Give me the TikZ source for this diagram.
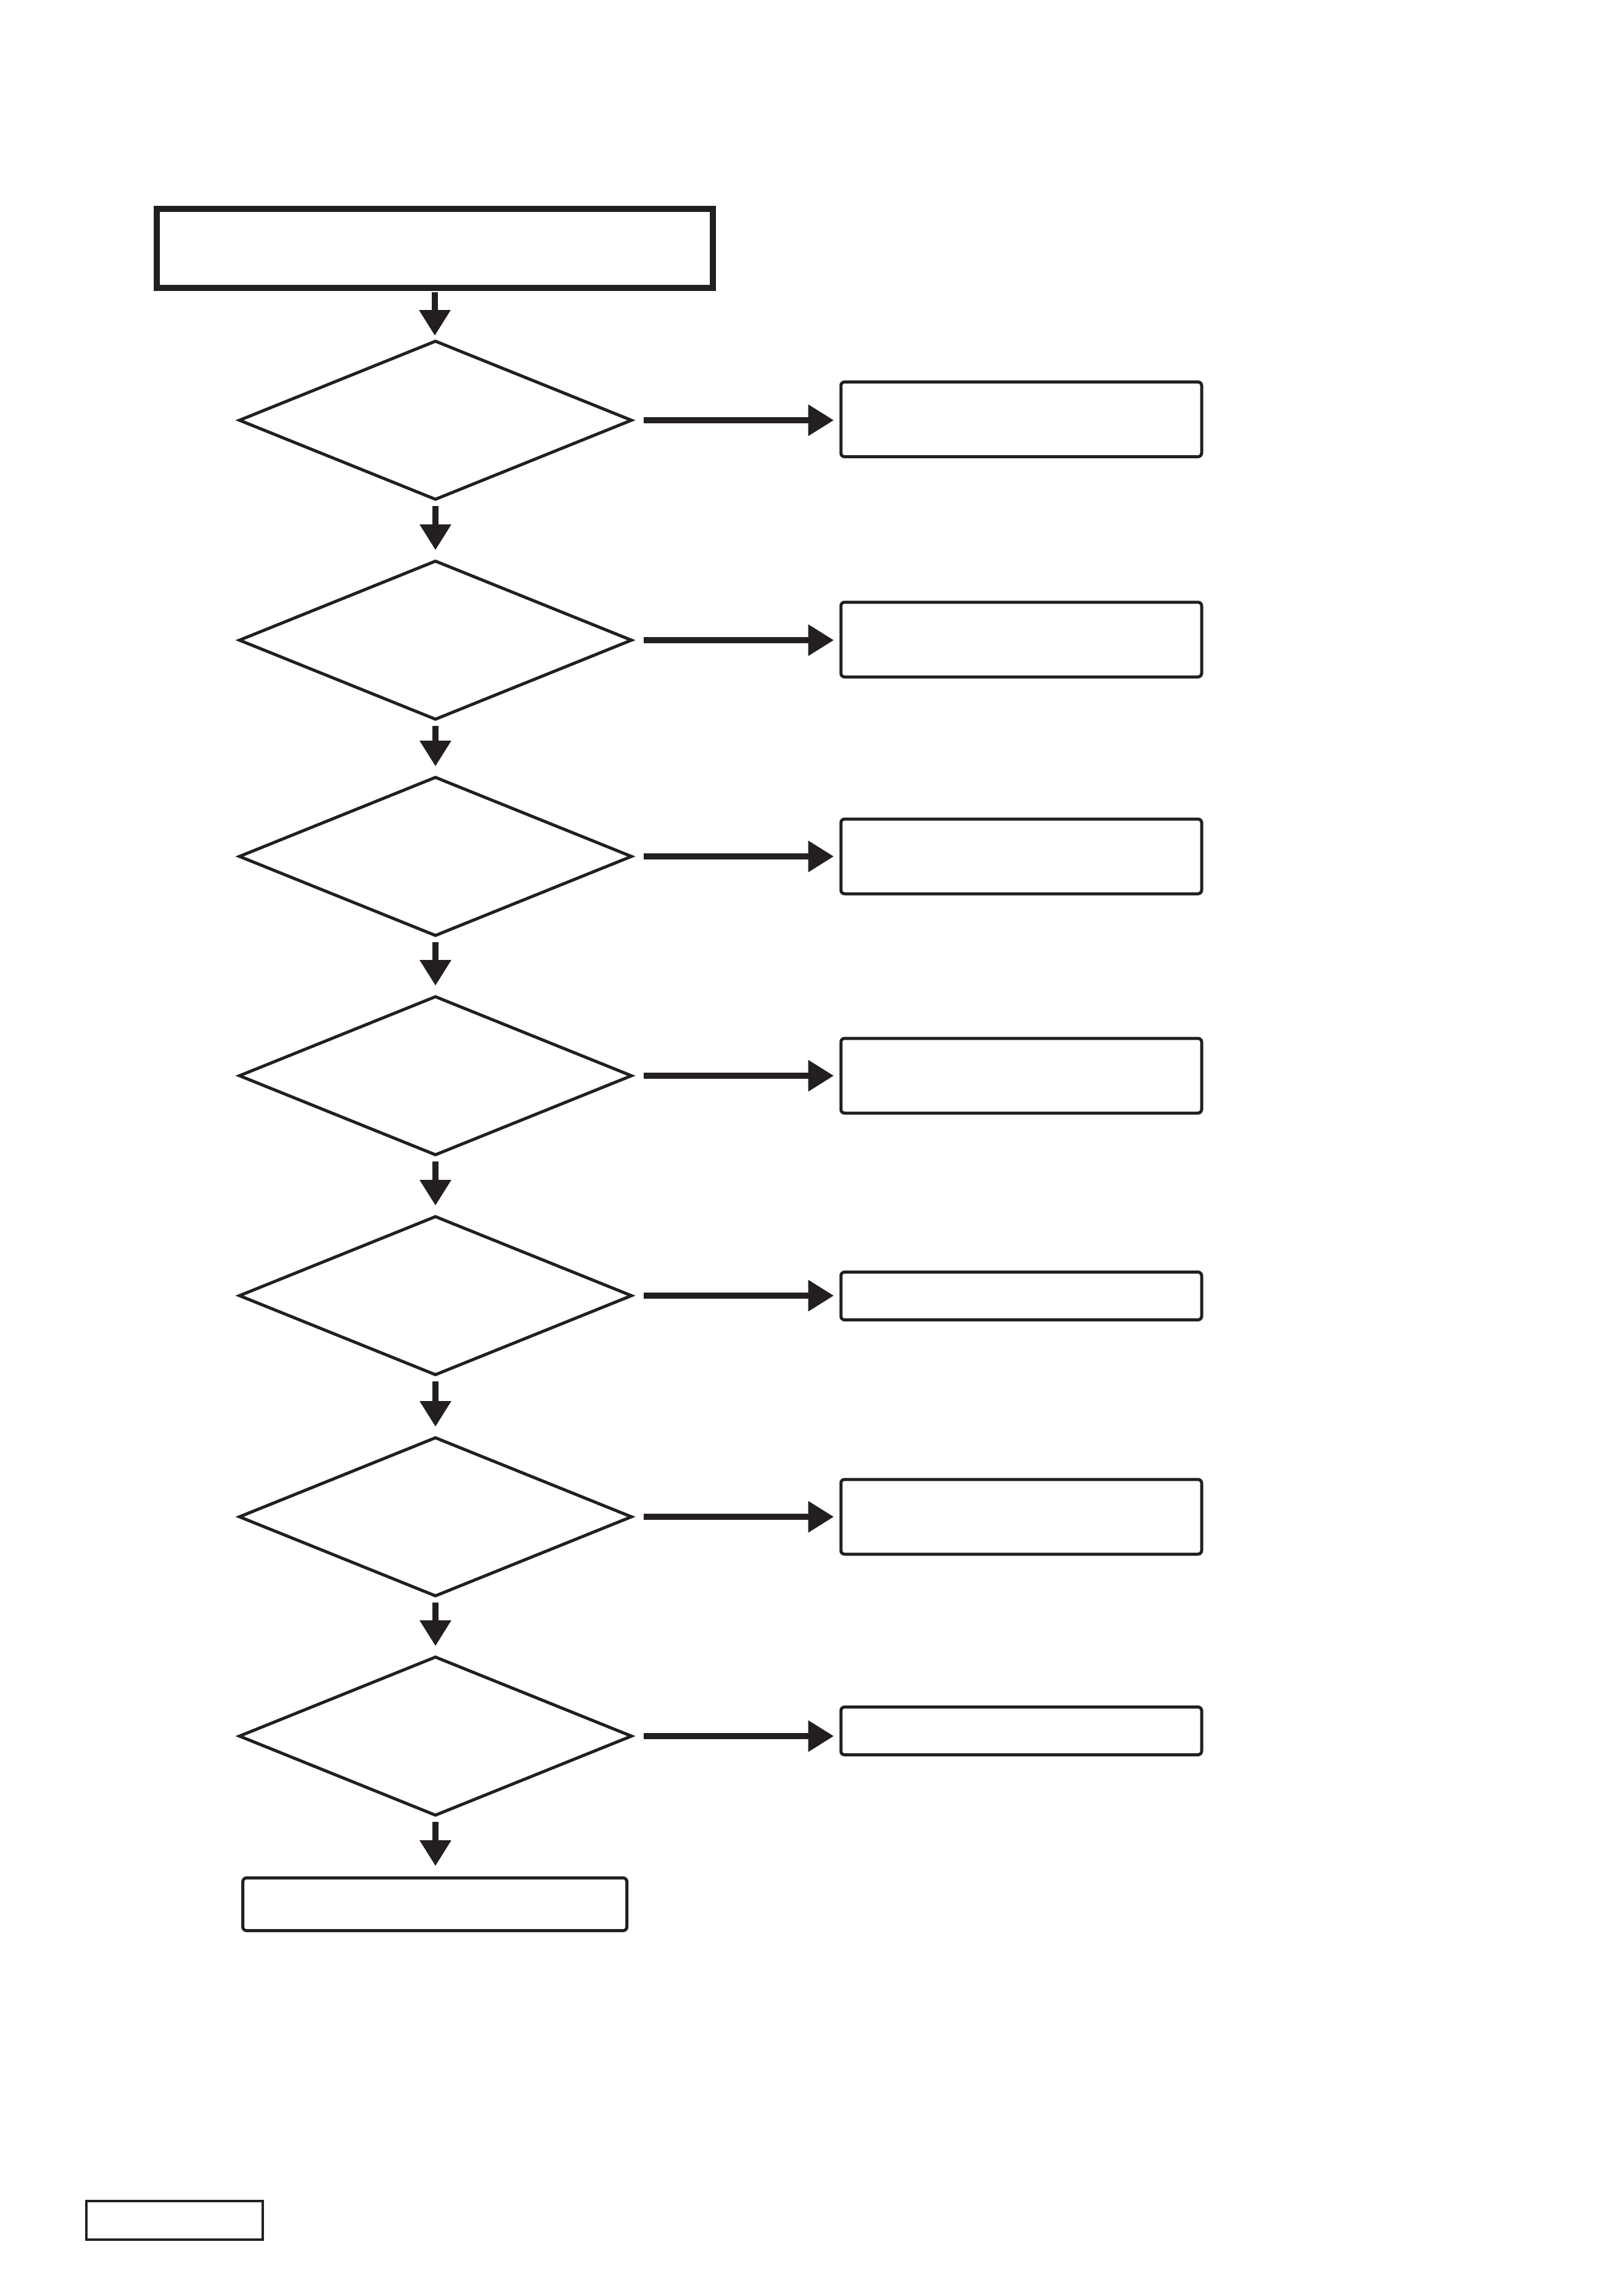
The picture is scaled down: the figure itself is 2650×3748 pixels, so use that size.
\documentclass[tikz,border=0pt]{standalone}
\usetikzlibrary{shapes.geometric,arrows.meta}
\definecolor{ink}{HTML}{231F20}
\begin{document}
\begin{tikzpicture}[x=0.2pt,y=-0.2pt,
  every node/.style={outer sep=0pt,inner sep=0pt},
  dec/.style={diamond,draw=ink,line width=1pt,minimum width=128pt,minimum height=51.6pt,aspect=2.48},
  rbox/.style={draw=ink,line width=1pt,rounded corners=1.2pt,minimum width=117.8pt},
  flow/.style={draw=ink,line width=2pt,-{Triangle[length=8.4pt,width=9.8pt]}},
  vflow/.style={flow,shorten <=2.2pt,shorten >=3.6pt},
  hflow/.style={flow,shorten <=4pt,shorten >=2.3pt}]
\useasboundingbox (0,0) rectangle (2650,3748);
\fill[white] (0,0) rectangle (2650,3748);
% top box
\node[draw=ink,line width=2pt,minimum width=181.6pt,minimum height=25.8pt] (top) at (710,405.5) {};
% decisions
\node[dec] (d1) at (711,686) {};
\node[dec] (d2) at (711,1045) {};
\node[dec] (d3) at (711,1398) {};
\node[dec] (d4) at (711,1756) {};
\node[dec] (d5) at (711,2115) {};
\node[dec] (d6) at (711,2476) {};
\node[dec] (d7) at (711,2834) {};
% right boxes
\node[rbox,minimum height=24.4pt] (r1) at (1667.5,684.5) {};
\node[rbox,minimum height=24.4pt] (r2) at (1667.5,1044) {};
\node[rbox,minimum height=24.4pt] (r3) at (1667.5,1398) {};
\node[rbox,minimum height=24.4pt] (r4) at (1667.5,1756) {};
\node[rbox,minimum height=15.6pt] (r5) at (1667.5,2115.5) {};
\node[rbox,minimum height=24.4pt] (r6) at (1667.5,2476) {};
\node[rbox,minimum height=15.6pt] (r7) at (1667.5,2825.5) {};
% bottom box
\node[draw=ink,line width=1pt,rounded corners=1.2pt,minimum width=125.4pt,minimum height=17.2pt] (bot) at (710,3108.5) {};
% small box bottom-left
\node[draw=ink,line width=0.75pt,minimum width=57.6pt,minimum height=12.6pt] (tag) at (285,3624.5) {};
% vertical connectors
\draw[flow,shorten <=1.4pt,shorten >=1.8pt] (top.south) -- (d1.north -| top.south);
\draw[vflow] (d1.south) -- (d2.north);
\draw[vflow] (d2.south) -- (d3.north);
\draw[vflow] (d3.south) -- (d4.north);
\draw[vflow] (d4.south) -- (d5.north);
\draw[vflow] (d5.south) -- (d6.north);
\draw[vflow] (d6.south) -- (d7.north);
\draw[flow,shorten <=2.2pt,shorten >=3.9pt] (d7.south) -- (d7.south |- bot.north);
% horizontal connectors
\foreach \i in {1,...,7}{
  \draw[hflow] (d\i.east) -- (d\i.east -| r\i.west);
}
\end{tikzpicture}
\end{document}
